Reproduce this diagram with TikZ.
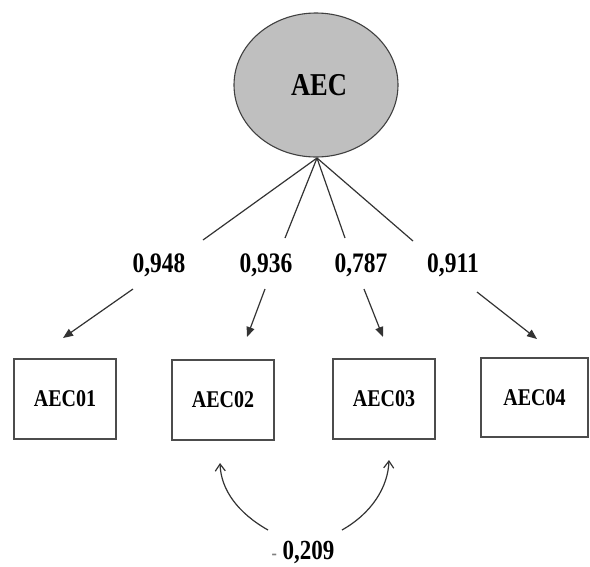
\documentclass[tikz,border=0pt]{standalone}
\usepackage{fontspec}
\setmainfont{Liberation Serif}
\usepackage{graphicx}
\usetikzlibrary{arrows.meta,shapes.geometric}
\newcommand{\vtext}[1]{\scalebox{1}[1.2]{#1}}
\begin{document}
\begin{tikzpicture}[x=1pt,y=-1pt,
  latent/.style={ellipse,draw=black!75,line width=1.1pt,fill=black!25,minimum width=164pt,minimum height=144pt,inner sep=0pt},
  obsbox/.style={rectangle,draw=black!70,line width=1.4pt,fill=white,minimum width=102pt,minimum height=80pt,inner sep=0pt,font=\fontsize{20pt}{22pt}\selectfont\bfseries},
  loadlab/.style={inner sep=0pt,font=\fontsize{23.5pt}{25pt}\selectfont\bfseries},
  path1/.style={draw=black!80,line width=1.2pt},
  arr/.style={path1,-{Triangle[length=10pt,width=8pt]}},
  covarr/.style={path1,-{Straight Barb[length=7pt,width=10pt,line width=1.2pt]}}]
\useasboundingbox (0,0) rectangle (590,566);
% latent
\node[latent] (aec) at (316,85) {};
\node[font=\fontsize{26.5pt}{28pt}\selectfont\bfseries] (aect) at (319,85) {\vtext{AEC}};
% boxes
\node[obsbox] (b1) at (65,399) {\vtext{AEC01}};
\node[obsbox] (b2) at (223,400) {\vtext{AEC02}};
\node[obsbox] (b3) at (384,399) {\vtext{AEC03}};
\node[obsbox,minimum width=107pt,minimum height=79pt] (b4) at (534.5,397.5) {\vtext{AEC04}};
% loading labels
\node[loadlab] (l1) at (159,265) {\vtext{0,948}};
\node[loadlab] (l2) at (266,265) {\vtext{0,936}};
\node[loadlab] (l3) at (361,265) {\vtext{0,787}};
\node[loadlab] (l4) at (453,265) {\vtext{0,911}};
% connector coordinates
\coordinate (apex) at (317,158);
\coordinate (e1) at (203,240);
\coordinate (e2) at (285,238);
\coordinate (e3) at (345,238);
\coordinate (e4) at (413,241);
\coordinate (s1) at (133,289);
\coordinate (s2) at (265,289);
\coordinate (s3) at (364,289);
\coordinate (s4) at (477,292);
\coordinate (t1) at (63,338);
\coordinate (t2) at (247,337);
\coordinate (t3) at (383,337);
\coordinate (t4) at (537,339);
\draw[path1] (apex) -- (e1);
\draw[path1] (apex) -- (e2);
\draw[path1] (apex) -- (e3);
\draw[path1] (apex) -- (e4);
\draw[arr] (s1) -- (t1);
\draw[arr] (s2) -- (t2);
\draw[arr] (s3) -- (t3);
\draw[arr] (s4) -- (t4);
% covariance
\node[loadlab,font=\fontsize{23pt}{25pt}\selectfont\bfseries] (cov) at (303,552) {\vtext{{\color{black!50}\fontsize{16pt}{18pt}\selectfont -} 0,209}};
\coordinate (cl) at (268,530);
\coordinate (cr) at (342,530);
\coordinate (c2) at (220,463);
\coordinate (c3) at (389,460);
\draw[covarr] (cl) .. controls (238,513) and (221,490) .. (c2);
\draw[covarr] (cr) .. controls (372,513) and (388,487) .. (c3);
\end{tikzpicture}
\end{document}
